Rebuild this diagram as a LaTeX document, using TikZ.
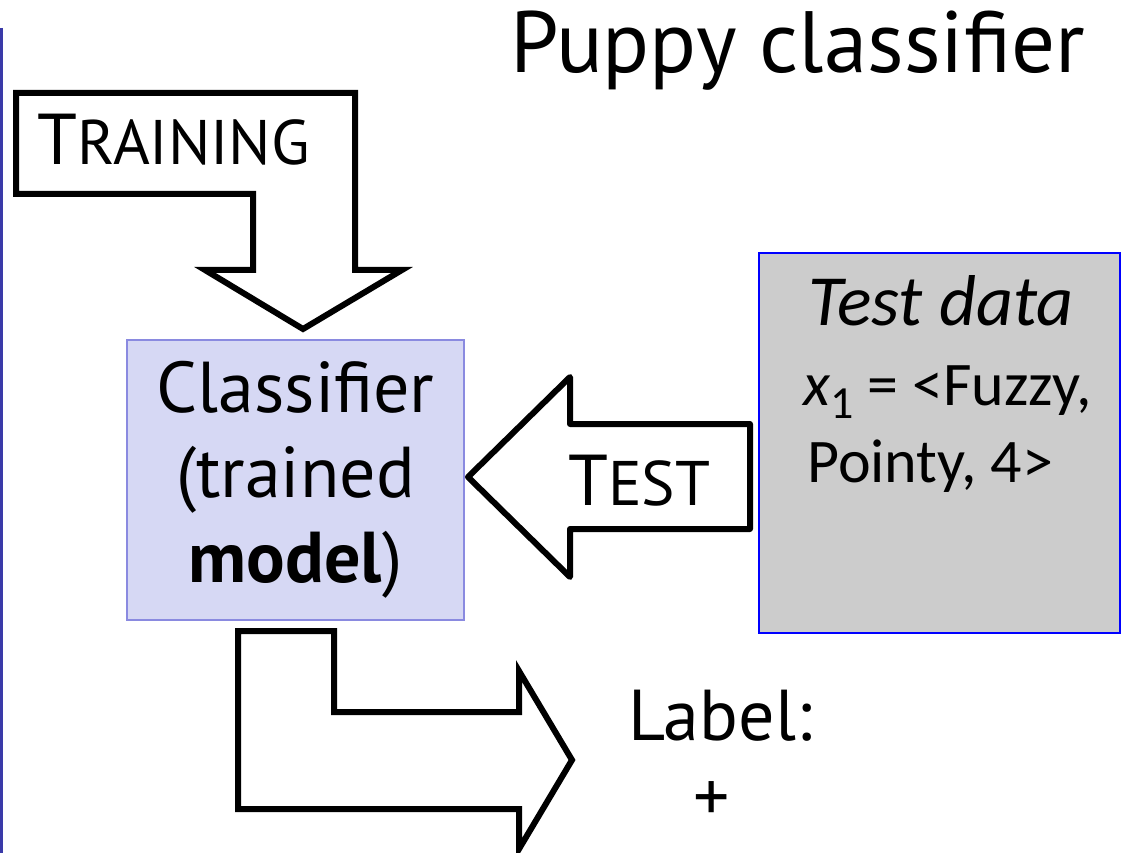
\documentclass[tikz,border=0pt]{standalone}
\usepackage{fontspec}
\setmainfont{PT Sans}
\newfontfamily\calfont{Carlito}
\usetikzlibrary{positioning}

\definecolor{boxlilac}{RGB}{214,216,244}
\definecolor{boxedge}{RGB}{138,138,224}
\definecolor{datagray}{RGB}{204,204,204}
\definecolor{dataedge}{RGB}{0,0,255}
\definecolor{sideline}{RGB}{58,58,168}

% capital first letter, the rest in smaller capitals
\newcommand\fakesc[2]{#1{\fontsize{63}{63}\selectfont #2}}

\begin{document}
\begin{tikzpicture}[
x=1pt, y=-1pt,
box/.style={draw=boxedge, fill=boxlilac, line width=1.5pt, minimum width=337pt, minimum height=280pt, align=center, font=\fontsize{72}{85}\selectfont},
databox/.style={draw=dataedge, fill=datagray, line width=1.5pt, minimum width=361pt, minimum height=380pt},
blockarrow/.style={draw, line width=6pt, fill=white},
txt/.style={inner sep=0pt, font=\fontsize{72}{72}\selectfont}
]

\useasboundingbox (0,0) rectangle (1125,853);

\draw[sideline, line width=3pt] (1.5,28) -- (1.5,853);

\node[txt, anchor=base east, font=\fontsize{87}{87}\selectfont] (title) at (1085,73) {Puppy classifier};

% boxes
\node[box] (classifier) at (295.5,480) {Classifier\\(trained\\\textbf{model})};
\node[databox] (testdata) at (939.5,443) {};

% block arrows
\draw[blockarrow] (16,93) -- (355,93) -- (355,270) -- (402,270) -- (303,329)
  -- (205,270) -- (253,270) -- (253,194) -- (16,194) -- cycle;
\draw[blockarrow, line join=round] (468,477) -- (570,377) -- (570,424) -- (750,424)
  -- (750,529) -- (570,529) -- (570,577) -- cycle;
\draw[blockarrow] (238,631) -- (334,631) -- (334,712) -- (519,712) -- (519,671)
  -- (572,760) -- (519,849) -- (519,809) -- (238,809) -- cycle;

\node[txt, anchor=base west] (train) at (37,165) {\fakesc{T}{RAINING}};
\node[txt, anchor=base west] (test) at (568,505) {\fakesc{T}{EST}};

% test data
\node[txt, anchor=base west, font=\calfont\itshape\fontsize{72}{72}\selectfont] (datahead) at (808,325) {Test data};
\node[txt, anchor=base west, font=\calfont\fontsize{62}{62}\selectfont] (dataone) at (803,405)
  {{\itshape x}\raisebox{-13pt}{\fontsize{46}{46}\selectfont 1} = <Fuzzy,};
\node[txt, anchor=base west, font=\calfont\fontsize{62}{62}\selectfont] (datatwo) at (807,482) {Pointy, 4>};

% output
\node[txt, anchor=base west] (label) at (628,740) {Label:};
\node[txt] (plus) at (712,802) {+};

\end{tikzpicture}
\end{document}
